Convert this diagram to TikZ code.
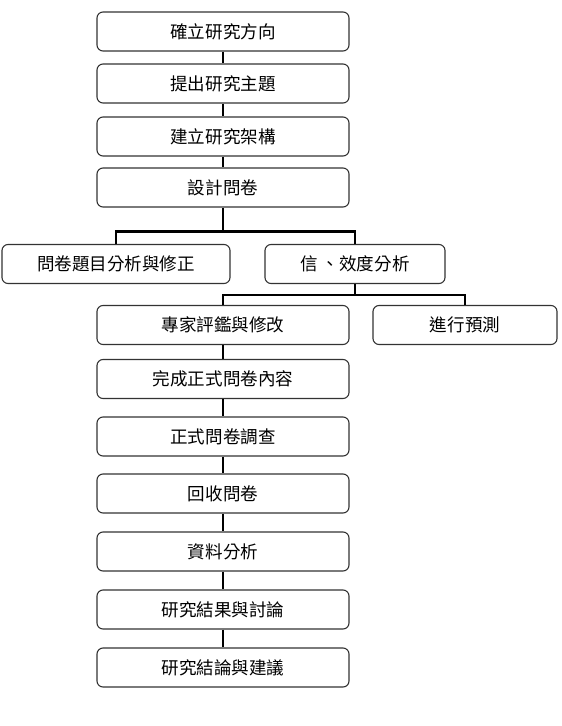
\documentclass[tikz,border=0pt]{standalone}
\usepackage{fontspec}
\usepackage{tikz}
\usetikzlibrary{calc}
\newfontfamily\cjk{Noto Sans CJK TC}
\definecolor{rand}{HTML}{333333}
\definecolor{schwarz}{HTML}{000000}
\tikzset{
  kasten/.style={draw=rand,line width=1.1bp,rounded corners=6bp,fill=white,minimum height=39bp,inner sep=0pt,font=\cjk\fontsize{17.6}{20}\selectfont},
  haupt/.style={kasten,minimum width=252bp},
  verb/.style={schwarz,line width=2.8bp},
}
\begin{document}
\begin{tikzpicture}[x=1bp,y=-1bp]
  \useasboundingbox (0,0) rectangle (562,726);
  \node[haupt] (richtung) at (223,31.5) {確立研究方向};
  \node[haupt] (thema) at (223,83.5) {提出研究主題};
  \node[haupt] (rahmen) at (223,136.5) {建立研究架構};
  \node[haupt] (entwurf) at (223,187.5) {設計問卷};
  \node[kasten,minimum width=228bp] (item) at (116,264) {問卷題目分析與修正};
  \node[kasten,minimum width=180bp] (guete) at (355,264) {信 、效度分析};
  \node[haupt] (experten) at (223,325) {專家評鑑與修改};
  \node[kasten,minimum width=184bp] (vortest) at (465,325) {進行預測};
  \node[haupt] (fertig) at (223,379) {完成正式問卷內容};
  \node[haupt] (umfrage) at (223,436.5) {正式問卷調查};
  \node[haupt] (ruecklauf) at (223,493.5) {回收問卷};
  \node[haupt] (analyse) at (223,551.5) {資料分析};
  \node[haupt] (ergebnis) at (223,609.5) {研究結果與討論};
  \node[haupt] (schluss) at (223,667.5) {研究結論與建議};
  \coordinate (knoten1) at (223,231.5);
  \coordinate (knoten2) at (355,295);
  \draw[verb] (richtung.south)--(thema.north);
  \draw[verb] (thema.south)--(rahmen.north);
  \draw[verb] (rahmen.south)--(entwurf.north);
  \draw[verb] (entwurf.south)--(knoten1);
  \draw[verb] (item.north) |- (knoten1) -| (guete.north);
  \draw[verb] (guete.south)--(knoten2);
  \draw[verb] (experten.north) |- (knoten2) -| (vortest.north);
  \draw[verb] (experten.south)--(fertig.north);
  \draw[verb] (fertig.south)--(umfrage.north);
  \draw[verb] (umfrage.south)--(ruecklauf.north);
  \draw[verb] (ruecklauf.south)--(analyse.north);
  \draw[verb] (analyse.south)--(ergebnis.north);
  \draw[verb] (ergebnis.south)--(schluss.north);
\end{tikzpicture}
\end{document}
